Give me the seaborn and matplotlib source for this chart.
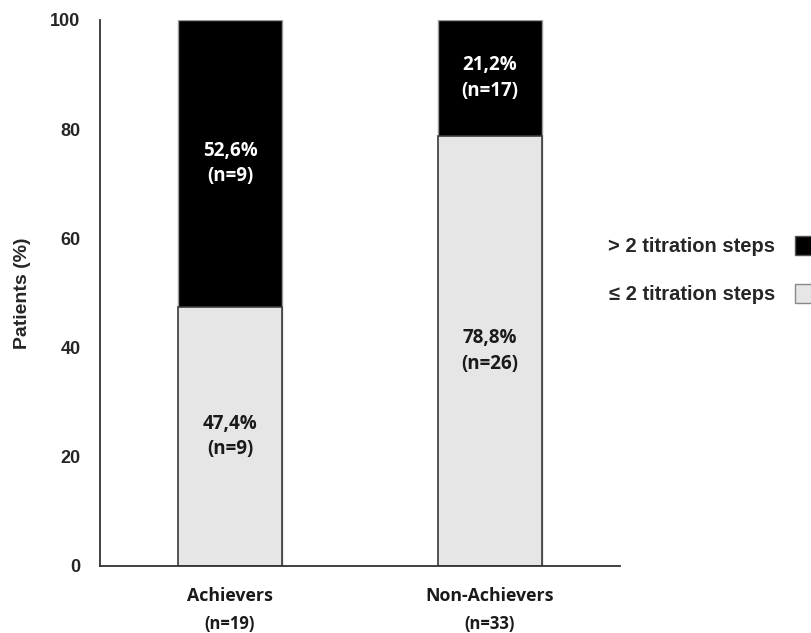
import matplotlib
matplotlib.use("Agg")
import matplotlib.pyplot as plt
from matplotlib.patches import Patch
import seaborn as sns
import pandas as pd

# Data
groups = ["Achievers", "Non-Achievers"]
group_n = ["(n=19)", "(n=33)"]
low_pct = [47.4, 78.8]    # <= 2 titration steps
high_pct = [52.6, 21.2]   # > 2 titration steps
low_labels = ["47,4%\n(n=9)", "78,8%\n(n=26)"]
high_labels = ["52,6%\n(n=9)", "21,2%\n(n=17)"]
series_names = ["> 2 titration steps", "\u2264 2 titration steps"]

sns.set_theme(style="white")
plt.rcParams["font.family"] = ["Liberation Sans", "DejaVu Sans"]

df = pd.DataFrame({"group": groups, "low": low_pct, "high": high_pct})
df["total"] = df["low"] + df["high"]

fig = plt.figure(figsize=(8.11, 6.33), dpi=100)
ax = fig.add_axes([100 / 811, 67 / 633, 520 / 811, 546 / 633])

dark = "#000000"
light = "#e6e6e6"
edge = "#3c3c3c"

# Stacked bars: full-height dark bar behind, light bar on top from zero
sns.barplot(data=df, x="group", y="total", color=dark, width=0.4,
            edgecolor="#9a9a9a", linewidth=1.0, ax=ax, saturation=1)
sns.barplot(data=df, x="group", y="low", color=light, width=0.4,
            edgecolor=edge, linewidth=1.2, ax=ax, saturation=1)

# Value labels centred in each segment
label_font = ["Open Sans", "DejaVu Sans"]
for i in range(len(groups)):
    ax.text(i, low_pct[i] / 2, low_labels[i], ha="center", va="center",
            fontsize=13.5, fontweight="bold", color="#1a1a1a",
            family=label_font, linespacing=1.35)
    ax.text(i, low_pct[i] + high_pct[i] / 2, high_labels[i], ha="center",
            va="center", fontsize=13.5, fontweight="bold", color="white",
            family=label_font, linespacing=1.35)

ax.set_xlim(-0.5, 1.5)
ax.set_ylim(0, 100)
ax.set_yticks([0, 20, 40, 60, 80, 100])
ax.tick_params(axis="y", length=0, pad=14, labelsize=13)
for t in ax.get_yticklabels():
    t.set_fontweight("bold")
ax.set_xticks(range(len(groups)))
ax.set_xticklabels(groups, family=label_font, fontsize=12.8, fontweight="bold",
                   color="#1a1a1a")
ax.tick_params(axis="x", length=0, pad=15)
for i, n in enumerate(group_n):
    ax.text(i, -10.6, n, ha="center", va="center", fontsize=12,
            fontweight="bold", family=label_font, color="#1a1a1a",
            transform=ax.transData, clip_on=False)

ax.set_xlabel("")
ax.set_ylabel("Patients (%)", fontsize=14, fontweight="bold", labelpad=14)

for side in ["top", "right"]:
    ax.spines[side].set_visible(False)
for side in ["left", "bottom"]:
    ax.spines[side].set_color("#333333")
    ax.spines[side].set_linewidth(1.3)

handles = [Patch(facecolor=dark, edgecolor="#555555", label=series_names[0]),
           Patch(facecolor=light, edgecolor="#888888", label=series_names[1])]
fig.legend(handles=handles, loc="center left",
           bbox_to_anchor=(590 / 811, (633 - 270) / 633),
           frameon=False, markerfirst=False, handlelength=1.1,
           handleheight=1.1, labelspacing=1.35, handletextpad=1.0,
           prop={"weight": "bold", "size": 14.5})

fig.savefig("out.png", dpi=100)
